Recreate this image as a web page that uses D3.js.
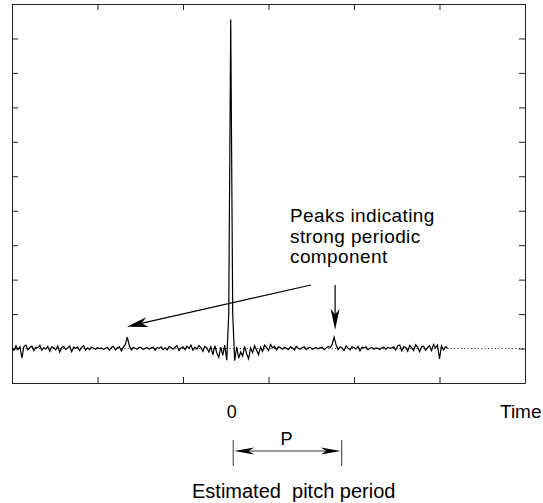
<!DOCTYPE html>
<html><head><meta charset="utf-8">
<script src="https://cdn.jsdelivr.net/npm/d3@7"></script>
<style>body{margin:0;background:#fff}svg{display:block}</style>
</head><body>
<svg id="c" width="543" height="503"></svg>
<script>
// ---- data ----
const lagStart = -110;
const signal = [
  0.02,-0.05,0.08,-0.03,0.05,-0.27,0.06,0.1,-0.04,0.03,
  0.07,-0.06,0.04,0.02,0.09,-0.05,0.03,-0.02,0.06,-0.08,
  0.05,0.02,-0.04,0.08,-0.1,0.03,0.06,-0.03,0.02,0.07,
  -0.09,0.04,0.01,0.05,-0.06,0.03,0.08,-0.04,0.02,-0.03,
  0.04,0.01,-0.02,0.03,-0.01,0.02,-0.03,0.01,0.04,-0.05,
  0.03,0.06,-0.04,0.02,0.05,-0.07,0.04,0.12,0.33,0.08,
  -0.04,0.03,0.01,-0.02,0.04,0.02,-0.03,0.01,0.03,-0.02,
  0.02,0.04,-0.05,0.03,0.01,0.05,-0.03,0.02,-0.04,0.06,
  0.03,-0.02,0.04,0.08,-0.06,0.02,0.05,-0.03,0.07,0.01,
  0.1,-0.05,0.04,-0.02,0.09,0.03,-0.08,0.06,0.02,-0.1,
  0.05,-0.18,0.08,-0.12,-0.26,0.04,-0.2,0.1,-0.34,1.0,
  9.55,1.0,-0.35,0.05,-0.28,-0.1,-0.22,0.06,-0.15,-0.3,
  0.02,-0.12,0.08,-0.05,-0.18,0.04,-0.08,0.1,0.03,-0.06,
  0.12,0.02,0.06,-0.04,0.05,0.03,-0.02,0.04,0.01,-0.03,
  0.05,0.02,-0.04,0.06,0.01,-0.02,0.03,0.05,-0.03,0.02,
  0.04,-0.02,0.01,0.03,-0.01,0.02,0.04,-0.03,0.02,0.06,
  0.03,0.12,0.33,0.1,-0.03,0.05,0.02,-0.06,0.08,0.01,
  -0.04,0.05,0.03,-0.02,0.06,-0.07,0.04,0.02,0.05,-0.03,
  0.01,0.03,-0.02,0.02,0.01,-0.03,0.02,0.04,-0.02,0.03,
  0.01,0.02,0.05,-0.04,0.08,0.1,-0.07,0.06,0.03,-0.08,
  0.09,0.02,-0.06,0.11,0.04,-0.09,0.05,0.07,-0.05,0.03,
  0.08,-0.06,0.12,0.02,0.1,-0.3,0.08,-0.04,0.05,0.02
];
const xDomain = [-110, 148];
const yDomain = [-1, 10];
const xTicks = [-110, -67, -24, 19, 62, 105, 148];
const yTicks = [-1, 0, 1, 2, 3, 4, 5, 6, 7, 8, 9, 10];
const baselineValue = 0;
const peakLags = [-52, 52];
const zeroLabel = "0";
const xLabel = "Time";
const annotationLines = ["Peaks indicating", "strong periodic", "component"];
const periodLabel = "P";
const caption = "Estimated  pitch period";

// ---- drawing ----
const svg = d3.select("#c");
const font = "'Liberation Sans', Arial, Helvetica, sans-serif";
const x = d3.scaleLinear().domain(xDomain).range([12, 525]);
const y = d3.scaleLinear().domain(yDomain).range([383, 4]);

const frameColor = "#222";
function styleAxis(g){
  g.selectAll("path.domain").attr("stroke", frameColor).attr("stroke-width", 1);
  g.selectAll(".tick line").attr("stroke", frameColor).attr("stroke-width", 1);
  g.selectAll(".tick text").remove();
}
svg.append("g").attr("transform", `translate(${x(xDomain[0])},0)`)
  .call(d3.axisLeft(y).tickValues(yTicks).tickSizeInner(-6).tickSizeOuter(0)).call(styleAxis);
svg.append("g").attr("transform", `translate(${x(xDomain[1])},0)`)
  .call(d3.axisRight(y).tickValues(yTicks).tickSizeInner(-6).tickSizeOuter(0)).call(styleAxis);
svg.append("g").attr("transform", `translate(0,${y(yDomain[1])})`)
  .call(d3.axisTop(x).tickValues(xTicks).tickSizeInner(-6).tickSizeOuter(0)).call(styleAxis);
svg.append("g").attr("transform", `translate(0,${y(yDomain[0])})`)
  .call(d3.axisBottom(x).tickValues(xTicks).tickSizeInner(-6).tickSizeOuter(0)).call(styleAxis);

// dotted baseline
svg.append("line")
  .attr("x1", x(xDomain[0])).attr("x2", x(xDomain[1]))
  .attr("y1", y(baselineValue)).attr("y2", y(baselineValue))
  .attr("stroke", "#000").attr("stroke-width", 0.8).attr("stroke-dasharray", "1.2,2.2");

// signal
const line = d3.line().x((d, i) => x(lagStart + i)).y(d => y(d));
svg.append("path").datum(signal).attr("d", line)
  .attr("fill", "none").attr("stroke", "#000").attr("stroke-width", 1.2)
  .attr("stroke-linejoin", "miter");

// arrowhead helper
function arrowHead(tx, ty, ang, L, W){
  const c = Math.cos(ang), s = Math.sin(ang);
  const pt = (u, v) => [tx - u*c - v*(-s), ty - u*s - v*c];
  const p = [pt(0,0), pt(L, W), pt(L*0.72, 0), pt(L, -W)];
  svg.append("path").attr("d", "M" + p.map(q => q.join(",")).join("L") + "Z").attr("fill", "#000");
}
function arrow(x1, y1, x2, y2, L, W, sw){
  const ang = Math.atan2(y2 - y1, x2 - x1);
  svg.append("line").attr("x1", x1).attr("y1", y1)
    .attr("x2", x2 - Math.cos(ang)*L*0.7).attr("y2", y2 - Math.sin(ang)*L*0.7)
    .attr("stroke", "#000").attr("stroke-width", sw);
  arrowHead(x2, y2, ang, L, W);
}

// annotation text
const ann = svg.append("text").attr("font-family", font).attr("font-size", 19)
  .attr("letter-spacing", 0.4).attr("fill", "#000");
annotationLines.forEach((t, i) => {
  ann.append("tspan").attr("x", 290).attr("y", 222 + i * 20.5).text(t);
});
// annotation arrows toward the peaks
const leftPeakY = y(signal[peakLags[0] - lagStart]);
const rightPeakY = y(signal[peakLags[1] - lagStart]);
arrow(311, 285, x(peakLags[0]) - 0.5, leftPeakY - 10.5, 21, 5, 1.2);
arrow(x(peakLags[1]) + 1, 285, x(peakLags[1]) + 1, rightPeakY - 7.5, 21, 4.5, 1.2);

// labels
svg.append("text").attr("x", x(0) + 1).attr("y", 418).attr("text-anchor", "middle")
  .attr("font-family", font).attr("font-size", 18).text(zeroLabel);
svg.append("text").attr("x", 500).attr("y", 418)
  .attr("font-family", font).attr("font-size", 19).text(xLabel);

// P bracket
const bx1 = x(0) + 2.5, bx2 = x(0) + 111;
svg.append("line").attr("x1", bx1).attr("x2", bx1).attr("y1", 440).attr("y2", 466).attr("stroke", "#000").attr("stroke-width", 0.8);
svg.append("line").attr("x1", bx2).attr("x2", bx2).attr("y1", 440).attr("y2", 466).attr("stroke", "#000").attr("stroke-width", 0.8);
svg.append("line").attr("x1", bx1 + 10).attr("x2", bx2 - 10).attr("y1", 451).attr("y2", 451).attr("stroke", "#000").attr("stroke-width", 0.8);
arrowHead(bx1 + 1, 451, Math.PI, 20, 3.6);
arrowHead(bx2 - 1, 451, 0, 20, 3.6);
svg.append("text").attr("x", (bx1 + bx2) / 2 - 1).attr("y", 445).attr("text-anchor", "middle")
  .attr("font-family", font).attr("font-size", 18).text(periodLabel);

svg.append("text").attr("x", 192).attr("y", 498).attr("xml:space", "preserve").style("white-space", "pre")
  .attr("font-family", font).attr("font-size", 20).text(caption);
</script>
</body></html>
